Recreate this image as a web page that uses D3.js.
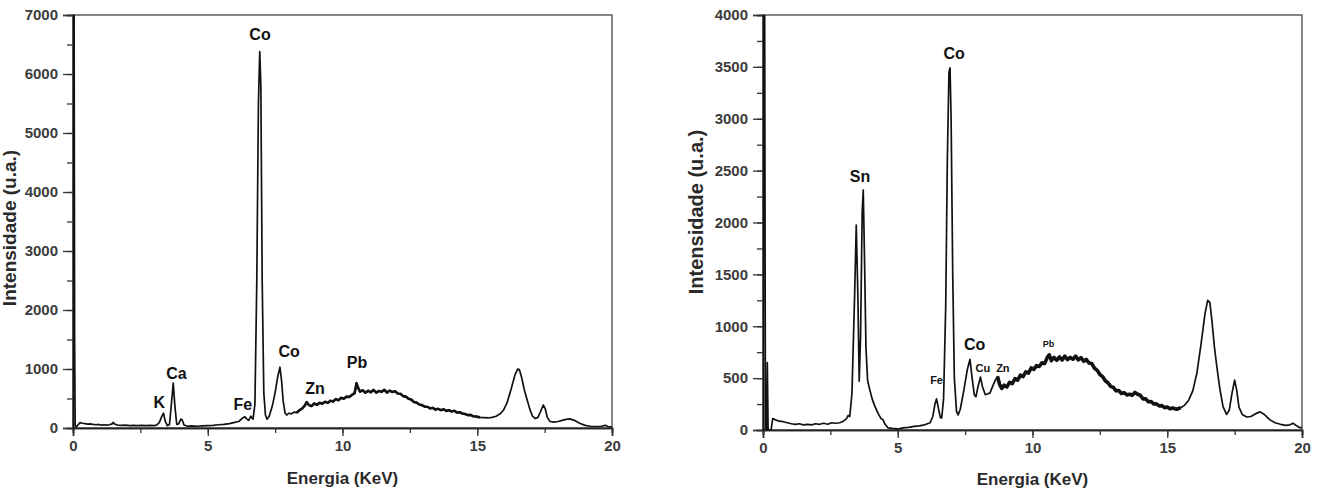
<!DOCTYPE html>
<html>
<head>
<meta charset="utf-8">
<script src="https://cdn.jsdelivr.net/npm/d3@7"></script>
<style>
    body{ margin:0; background:#fff; }
    svg text{ font-family:"Liberation Sans", Arial, sans-serif; font-weight:bold; }
</style>
</head>
<body>
<div class="spectra"></div>
<script>

//left spectrum (energy in keV, intensity in u.a.)
let leftEnergy = [0.00,0.02,0.04,0.06,0.08,0.12,0.2,0.26,0.35,0.45,0.55,0.65,0.75,0.85,0.95,1.05,1.15,1.25,1.35,1.45,1.5,1.55,1.65,1.8,1.95,2.1,2.25,2.4,2.55,2.7,2.85,3.0,
    3.1,3.2,3.3,3.36,3.42,3.5,3.58,3.65,3.72,3.78,3.85,3.92,4.0,4.05,4.12,4.25,4.4,4.6,4.8,5.0,5.2,5.4,5.6,5.8,6.0,6.15,6.3,6.38,6.45,6.52,6.6,6.68,
    6.75,6.82,6.88,6.93,6.97,7.02,7.08,7.14,7.2,7.28,7.4,7.5,7.6,7.68,7.74,7.8,7.87,7.93,8.0,8.1,8.2,8.3,8.4,8.5,8.6,8.67,8.75,8.85,
    8.95,9.05,9.15,9.25,9.35,9.45,9.55,9.65,9.75,9.85,9.95,10.05,10.15,10.25,10.35,10.45,10.52,10.58,10.65,10.75,10.85,10.95,11.05,11.15,11.25,11.35,11.45,11.55,11.65,11.75,11.85,11.95,
    12.05,12.15,12.25,12.35,12.45,12.55,12.65,12.75,12.85,12.95,13.05,13.15,13.25,13.35,13.45,13.55,13.65,13.75,13.85,13.95,14.05,14.15,14.25,14.35,14.45,14.55,14.65,14.75,14.85,14.95,
    15.1,15.25,15.4,15.55,15.7,15.85,15.97,16.1,16.25,16.4,16.5,16.56,16.65,16.75,16.85,16.95,17.05,17.15,17.25,17.35,17.45,17.52,17.6,17.7,17.85,18.0,18.15,18.3,18.44,18.6,18.8,19.0,19.2,19.4,19.6,19.75,19.85,20.0];
let leftCounts = [0,7300,7300,1500,40,20,60,90,80,75,65,70,60,55,60,50,55,50,55,70,95,65,50,45,50,40,45,40,45,40,45,40,
    50,90,200,250,120,40,60,400,760,380,60,70,150,140,50,30,35,30,35,40,45,55,60,75,95,110,170,190,150,130,200,150,
    400,2500,5500,6380,5800,2500,600,220,150,200,380,600,880,1030,800,450,250,220,250,240,270,260,300,330,380,440,390,370,
    415,392,428,410,445,425,462,448,490,470,512,497,532,525,560,590,760,680,615,640,598,632,605,645,600,628,612,648,600,635,610,622,
    585,580,540,532,495,482,440,430,398,388,362,360,332,342,312,325,302,318,290,302,280,292,262,268,245,238,218,222,198,196,
    180,175,170,180,200,240,300,420,650,900,1000,990,850,640,480,320,200,160,180,280,390,330,180,110,100,110,130,145,155,130,80,45,30,25,30,45,25,15];

//right spectrum
let rightEnergy = [0.00,0.03,0.06,0.09,0.13,0.16,0.19,0.3,0.36,0.45,0.6,0.75,0.9,1.05,1.2,1.35,1.5,1.65,1.8,1.95,2.1,2.25,2.4,2.55,2.7,2.85,2.98,
    3.1,3.16,3.22,3.3,3.4,3.46,3.52,3.57,3.62,3.68,3.72,3.77,3.82,3.88,3.95,4.05,4.15,4.27,4.38,4.45,4.52,4.64,4.8,5.0,5.2,5.4,5.6,5.8,6.0,6.2,
    6.3,6.38,6.44,6.5,6.58,6.63,6.7,6.78,6.84,6.9,6.94,6.98,7.04,7.1,7.18,7.24,7.32,7.45,7.58,7.68,7.76,7.84,7.9,7.98,8.07,8.14,8.25,8.35,8.42,8.52,8.62,8.7,8.78,8.86,
    8.95,9.05,9.15,9.25,9.35,9.45,9.55,9.65,9.75,9.85,9.95,10.05,10.15,10.25,10.35,10.45,10.55,10.62,10.7,10.8,10.9,11.0,11.1,11.2,11.3,11.4,11.5,11.6,11.7,11.8,11.9,
    12.0,12.1,12.2,12.3,12.4,12.5,12.6,12.7,12.8,12.9,13.0,13.1,13.2,13.3,13.4,13.5,13.6,13.7,13.8,13.9,14.0,14.1,14.2,14.3,14.4,14.5,14.6,14.7,14.8,14.9,15.0,15.1,15.2,
    15.35,15.5,15.65,15.8,15.95,16.1,16.25,16.4,16.5,16.58,16.66,16.75,16.84,16.95,17.07,17.2,17.3,17.4,17.5,17.58,17.66,17.78,17.95,18.1,18.3,18.45,18.6,18.8,19.0,19.2,19.4,19.55,19.67,19.8,19.9,20.0];
let rightCounts = [0,4300,4300,0,0,650,0,0,110,100,85,80,70,60,55,60,50,55,50,60,55,65,55,70,65,70,85,
    110,140,130,350,1300,1975,1300,470,900,2100,2313,1600,800,480,400,300,230,160,110,100,60,20,15,10,20,25,35,40,50,70,
    130,250,300,220,120,115,300,1200,2600,3450,3490,3000,1500,500,180,145,200,380,580,680,500,340,320,420,510,420,340,350,355,420,480,515,440,400,
    432,415,460,448,495,480,528,515,560,548,598,585,620,612,648,640,700,725,668,700,672,705,675,712,678,700,682,712,676,698,662,
    680,645,640,595,575,535,515,475,455,420,410,378,380,352,360,338,345,335,362,345,335,300,300,272,275,250,252,232,235,215,222,205,212,
    200,215,240,290,380,550,820,1120,1250,1230,1050,800,610,400,225,150,190,350,480,380,220,150,125,130,160,175,150,100,70,55,45,50,65,40,25,20];

//tick values
let xTicks = [0, 5, 10, 15, 20];
let leftYTicks = [0, 1000, 2000, 3000, 4000, 5000, 6000, 7000];
let rightYTicks = [0, 500, 1000, 1500, 2000, 2500, 3000, 3500, 4000];

//peak labels: text, energy and intensity of the text baseline, size class
let leftLabels = [
    ["Co", 6.94, 6576, "big"], ["Ca", 3.84, 830, "big"], ["K", 3.2, 340, "big"], ["Fe", 6.3, 310, "big"],
    ["Co", 8.02, 1200, "big"], ["Zn", 8.98, 580, "big"], ["Pb", 10.54, 1020, "big"]
];
let rightLabels = [
    ["Sn", 3.6, 2390, "big"], ["Co", 7.09, 3576, "big"], ["Co", 7.85, 771, "big"],
    ["Fe", 6.44, 443, "small"], ["Cu", 8.16, 562, "small"], ["Zn", 8.9, 560, "small"], ["Pb", 10.59, 800, "tiny"]
];

let labelSize = {big: "16px", small: "11px", tiny: "9px"};

class Spectrum{

    constructor(energy, counts, opts){
        this.energy = energy;
        this.counts = counts;
        this.opts = opts;
    }

    draw(svg){
        let o = this.opts;
        let x = d3.scaleLinear().domain([0, 20]).range([o.left, o.right]);
        let y = d3.scaleLinear().domain([0, o.ymax]).range([o.bottom, o.top]);
        let g = svg.append("g").attr("id", o.id);

        //clip so the spikes at 0 keV stop at the frame
        g.append("clipPath").attr("id", o.id + "-clip")
            .append("rect")
            .attr("x", o.left).attr("y", o.top)
            .attr("width", o.right - o.left).attr("height", o.bottom - o.top);

        //frame
        g.append("rect")
            .attr("x", o.left).attr("y", o.top)
            .attr("width", o.right - o.left).attr("height", o.bottom - o.top)
            .attr("fill", "none").attr("stroke", "#444").attr("stroke-width", 1.3);

        //x axis, major + minor ticks
        let xAxis = d3.axisBottom(x).tickValues(xTicks).tickSize(8).tickPadding(4).tickFormat(d3.format("d"));
        let xMinor = d3.axisBottom(x).tickValues(d3.range(0, 20.01, 2.5)).tickSize(5).tickFormat("");
        let ax = g.append("g").attr("transform", "translate(0," + o.bottom + ")").call(xAxis);
        let axm = g.append("g").attr("transform", "translate(0," + o.bottom + ")").call(xMinor);

        //y axis
        let yAxis = d3.axisLeft(y).tickValues(o.yTicks).tickSize(10).tickPadding(5).tickFormat(d3.format("d"));
        let yMinor = d3.axisLeft(y).tickValues(d3.range(0, o.ymax + 1, o.yTicks[1] / 2)).tickSize(6).tickFormat("");
        let ay = g.append("g").attr("transform", "translate(" + o.left + ",0)").call(yAxis);
        let aym = g.append("g").attr("transform", "translate(" + o.left + ",0)").call(yMinor);

        [ax, axm, ay, aym].forEach(a => {
            a.select(".domain").attr("stroke", "#222").attr("stroke-width", 1.6);
            a.selectAll(".tick line").attr("stroke", "#333").attr("stroke-width", 1.3);
            a.selectAll("text")
                .attr("fill", "#3c3c3c")
                .style("font-size", "15px")
                .style("font-family", "'Liberation Sans', Arial, sans-serif")
                .style("font-weight", "bold");
        });

        //spectrum line
        let pts = this.energy.map((e, i) => [e, this.counts[i]]);
        let line = d3.line().x(d => x(d[0])).y(d => y(d[1]));
        g.append("path")
            .datum(pts)
            .attr("clip-path", "url(#" + o.id + "-clip)")
            .attr("d", line)
            .attr("fill", "none")
            .attr("stroke", "#111")
            .attr("stroke-width", 1.7)
            .attr("stroke-linejoin", "round");

        //the noisy part of the spectrum reads as a thicker band
        g.append("path")
            .datum(pts.filter(d => d[0] >= o.noise[0] && d[0] <= o.noise[1]))
            .attr("d", line)
            .attr("fill", "none")
            .attr("stroke", "#111")
            .attr("stroke-width", o.noiseWidth)
            .attr("stroke-linejoin", "round");

        //peak labels
        g.selectAll(".peak").data(o.labels).enter().append("text")
            .attr("class", "peak")
            .attr("x", d => x(d[1]))
            .attr("y", d => y(d[2]))
            .attr("text-anchor", "middle")
            .attr("fill", "#111")
            .style("font-size", d => labelSize[d[3]])
            .text(d => d[0]);

        //axis titles
        g.append("text")
            .attr("x", (o.left + o.right) / 2)
            .attr("y", o.xTitleY)
            .attr("text-anchor", "middle")
            .attr("fill", "#2a2a2a")
            .style("font-size", "17px")
            .text("Energia (KeV)");

        g.append("text")
            .attr("transform", "translate(" + o.yTitleX + "," + o.yTitleY + ") rotate(-90)")
            .attr("text-anchor", "middle")
            .attr("fill", "#2a2a2a")
            .style("font-size", o.yTitleSize)
            .text("Intensidade (u.a.)");
    }
}

let svg = d3.select(".spectra").append("svg")
    .attr("width", 1317)
    .attr("height", 489);

let leftChart = new Spectrum(leftEnergy, leftCounts, {
    id: "left", left: 73, right: 612, top: 15, bottom: 428, ymax: 7000,
    yTicks: leftYTicks, labels: leftLabels, noise: [8.3, 15.2], noiseWidth: 2.6,
    xTitleY: 484, yTitleX: 16, yTitleY: 228, yTitleSize: "19px"
});
leftChart.draw(svg);

let rightChart = new Spectrum(rightEnergy, rightCounts, {
    id: "right", left: 763, right: 1302, top: 15, bottom: 430, ymax: 4000,
    yTicks: rightYTicks, labels: rightLabels, noise: [8.7, 15.6], noiseWidth: 3.6,
    xTitleY: 485, yTitleX: 703, yTitleY: 212, yTitleSize: "20px"
});
rightChart.draw(svg);

</script>
</body>
</html>
